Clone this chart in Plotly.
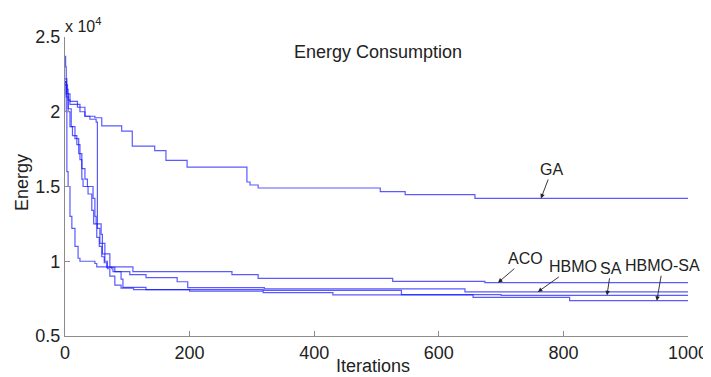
import plotly.graph_objects as go

# ---- data (iteration, best energy in units of 1e4); step-hold values ----
ga_iter = [0, 4, 8, 20, 32, 48, 59, 91, 108, 144, 162, 196, 292, 297, 310, 506, 546, 658, 1000]
ga_val = [2.18, 2.12, 2.07, 2.03, 1.97, 1.96, 1.905, 1.87, 1.77, 1.74, 1.675, 1.63, 1.53, 1.51, 1.49, 1.466, 1.446, 1.42, 1.42]

aco_iter = [0, 1, 2, 3, 5, 8, 11, 16, 21, 24, 48, 51, 109, 268, 310, 526, 674, 1000]
aco_val = [2.37, 2.3, 2.0, 1.6, 1.5, 1.3, 1.22, 1.1, 1.02, 1.0, 0.985, 0.963, 0.93, 0.91, 0.885, 0.865, 0.857, 0.857]

hbmo_iter = [0, 2, 5, 8, 12, 19, 24, 27, 29, 37, 43, 46, 51, 55, 59, 63, 67, 75, 77, 104, 130, 180, 197, 320, 642, 1000]
hbmo_val = [2.2, 2.1, 2.0, 1.9, 1.84, 1.78, 1.68, 1.55, 1.5, 1.45, 1.34, 1.25, 1.16, 1.1, 1.03, 0.99, 0.96, 0.95, 0.93, 0.91, 0.89, 0.863, 0.824, 0.815, 0.795, 0.795]

sa_iter = [0, 2, 5, 10, 16, 22, 27, 32, 36, 45, 48, 50, 58, 60, 64, 72, 80, 90, 93, 130, 318, 540, 700, 1000]
sa_val = [2.2, 2.12, 2.02, 1.9, 1.82, 1.72, 1.62, 1.55, 1.5, 1.42, 1.3, 1.25, 1.18, 1.12, 1.05, 0.96, 0.93, 0.88, 0.825, 0.81, 0.805, 0.777, 0.772, 0.772]

hbmosa_iter = [0, 3, 5, 8, 24, 32, 40, 50, 52, 56, 60, 64, 68, 72, 80, 90, 110, 200, 318, 430, 655, 810, 1000]
hbmosa_val = [2.22, 2.15, 2.08, 2.05, 2.0, 1.97, 1.95, 1.93, 1.22, 1.12, 1.05, 1.0, 0.95, 0.9, 0.84, 0.82, 0.81, 0.80, 0.79, 0.775, 0.759, 0.736, 0.736]

series = [
    ("GA", ga_iter, ga_val),
    ("ACO", aco_iter, aco_val),
    ("HBMO", hbmo_iter, hbmo_val),
    ("SA", sa_iter, sa_val),
    ("HBMO-SA", hbmosa_iter, hbmosa_val),
]

# label annotations: name, iteration, value pointed at, text offset (px)
labels = [
    ("GA", 764, 1.42, 11, -29),
    ("ACO", 695, 0.857, 28, -24),
    ("HBMO", 759, 0.795, 35, -25),
    ("SA", 870, 0.772, 4, -27),
    ("HBMO-SA", 950, 0.736, 6, -35),
]

x_ticks = [0, 200, 400, 600, 800, 1000]
y_ticks = [0.5, 1, 1.5, 2, 2.5]
y_tick_text = ["0.5", "1", "1.5", "2", "2.5"]

FONT = "Liberation Sans, Arial, sans-serif"
TXT = "#222"
LINE_COLOR = "rgba(20,20,255,0.7)"
AXIS_COLOR = "#8c8c8c"

# page body has an 8px margin; compensate so plot area lands at x 65..688, y 37..336
OFF = 8
W, H = 711 - OFF, 377 - OFF
PX0, PX1, PY0, PY1 = 65, 688, 37, 336
ML, MR, MT, MB = PX0 - OFF, (OFF + W) - PX1, PY0 - OFF, (OFF + H) - PY1
PW = PX1 - PX0
PH = PY1 - PY0


def px_to_paper(px, py):
    return (px - PX0) / PW, 1 - (py - PY0) / PH


fig = go.Figure()
for name, xs, ys in series:
    fig.add_trace(go.Scatter(x=xs, y=ys, mode="lines", name=name,
                             line=dict(color=LINE_COLOR, width=1.2, shape="hv"),
                             showlegend=False))

for name, xi, yv, axo, ayo in labels:
    fig.add_annotation(x=xi, y=yv, xref="x", yref="y", text=name, showarrow=True,
                       ax=axo, ay=ayo, arrowhead=2, arrowsize=1, arrowwidth=0.9,
                       arrowcolor=TXT, font=dict(family=FONT, size=16, color=TXT),
                       standoff=0, startstandoff=0)

# exponent label
fig.add_annotation(x=0, y=1.0, xref="paper", yref="paper", xanchor="left", yanchor="bottom",
                   text="x 10<sup>4</sup>", showarrow=False, xshift=-2,
                   font=dict(family=FONT, size=16, color=TXT))
# title
tx, ty = px_to_paper(378, 52)
fig.add_annotation(x=tx, y=ty, xref="paper", yref="paper", xanchor="center", yanchor="middle",
                   text="Energy Consumption", showarrow=False,
                   font=dict(family=FONT, size=18, color=TXT))
# axis titles
ix, iy = px_to_paper(373, 366)
fig.add_annotation(x=ix, y=iy, xref="paper", yref="paper", xanchor="center", yanchor="middle",
                   text="Iterations", showarrow=False, font=dict(family=FONT, size=18, color=TXT))
ex, ey = px_to_paper(22, 183)
fig.add_annotation(x=ex, y=ey, xref="paper", yref="paper", xanchor="center", yanchor="middle",
                   text="Energy", textangle=-90, showarrow=False,
                   font=dict(family=FONT, size=18, color=TXT))

fig.update_layout(
    width=W, height=H,
    margin=dict(l=ML, r=MR, t=MT, b=MB),
    paper_bgcolor="white", plot_bgcolor="white",
    font=dict(family=FONT, size=17, color=TXT),
)
fig.update_xaxes(range=[0, 1000], tickvals=x_ticks, ticks="inside", ticklen=5,
                 tickcolor=AXIS_COLOR, showline=True, linecolor=AXIS_COLOR, linewidth=1.2,
                 showgrid=False, zeroline=False, automargin=False,
                 tickfont=dict(family=FONT, size=18, color=TXT))
fig.update_yaxes(range=[0.5, 2.5], tickvals=y_ticks, ticktext=y_tick_text, ticks="inside",
                 ticklen=5, tickcolor=AXIS_COLOR, showline=True, linecolor=AXIS_COLOR,
                 linewidth=1.2, showgrid=False, zeroline=False, automargin=False,
                 tickfont=dict(family=FONT, size=18, color=TXT))

fig.write_html("out.html")
